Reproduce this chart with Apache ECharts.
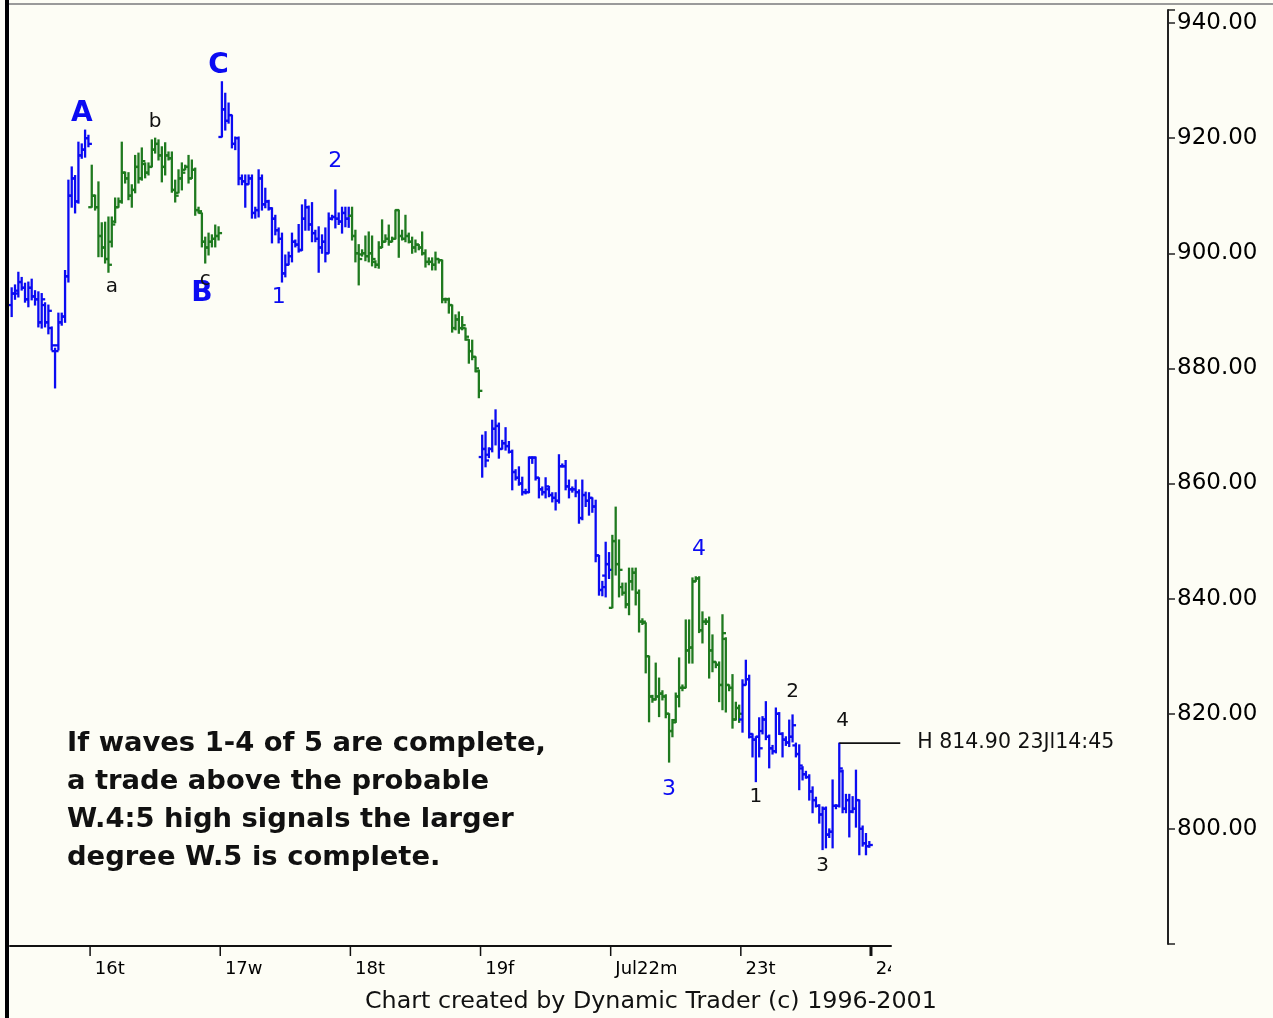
<!DOCTYPE html>
<html><head><meta charset="utf-8">
<script src="https://cdn.jsdelivr.net/npm/echarts@6/dist/echarts.min.js"></script>
<style>html,body{margin:0;padding:0;background:#FDFDF5;}#c{width:1273px;height:1018px;}</style>
</head><body><div id="c"></div>
<script>
// day labels (one per trading day); 15 Jul is the partial first day, 24 is only started
const dayLabels = ['15', '16t', '17w', '18t', '19f', 'Jul22m', '23t', '24'];
// 10-minute OHLC bars: [open, high, low, close]
const day15 = [
[891,894,889,893],[893,894.5,892,893.5],[893,896.7,892.4,895],[895,895.8,893.6,894],
[894,894.8,891.5,892],[892,895,890.7,894],[894,895.5,891.9,892.5],[892.5,893.5,891,892],
[892,893.3,887.2,888],[888,893,887,892],[891,891.4,887.2,888],[888,891,886,890],
[887,887.2,883.2,884],[883,883.5,876.6,883],[884,889.6,883.2,888],[888,889.6,887.5,889],
[889,897,888,896],[896,912.7,895,910],[910,915,908,913],[913,913.5,907,909],
[909,919.3,908.7,917],[917,919,916.5,918],[918,921.4,916.7,920],[920,920.5,918.5,919]];
const day16 = [
[908,915.3,908,910],[910,910.1,907.5,908],[908,912.4,899.4,903],[903,905.3,899.4,901],
[901,905.4,898.3,899],[899,906.3,896.7,898],[902,906.3,901.1,905],[905.5,909.6,905.3,908],
[908,909.6,908,909],[909,919.3,908.7,914],[914,914.1,912.2,913],[913,914,909.3,910],
[910,911.9,908,911],[911,917,910.5,915],[915,917.4,912.2,913],[913,918.3,912.7,916],
[915.5,915.7,913.1,914],[914,915.7,913.6,915],[915,919.7,915,918],[918,920,917.4,919],
[919,919.7,916.2,917],[917,918.5,912.4,915],[915,919.2,913.6,917],[917,917.6,916.2,916.5],
[916.5,917.6,910.6,911],[911,912.7,908.9,910],[910.5,914.5,910.5,913],[913,915.7,911,914],
[914.5,915.3,914.5,915],[915,917,912.2,913],[913,916.2,913,914.5],[914.5,914.8,906.6,907.5],
[907.5,908,907,907.3],[907,907,901.1,902],[902,902.8,898.3,901],[901,903.5,899.7,902],
[902,903.2,901.1,902.5],[902.5,904.9,901.1,903],[903,904.6,902.3,903.5]];
const day17 = [
[920.2,929.8,920.2,925],[925,927.8,921.4,923],[923,926.1,922.6,924],[924,924,918.3,919],
[919,920.2,918,920],[920,920.2,911.9,913],[913,913.6,911.9,912.5],[912.5,913.6,908,912],
[912,913.6,912,913],[913,913.6,906.1,907],[907,908,906.1,907.5],[907.5,914.5,906.3,913],
[913,913.6,907.5,908.5],[908.5,911.3,907.9,909],[909,909.2,907.5,907.8],[907.8,907.9,901.8,906],
[906,906.6,903.2,904],[904,904.4,901.8,902.5],[902.5,903.5,895,896.5],[896.5,899.7,895.9,898],
[898,900.2,898,899.5],[899.5,903.5,898.5,902],[902,902.3,901.1,901.5],[901.5,905,900.2,900.5],
[900.6,908.4,900.5,906],[906,909.3,904,908],[908,908.2,904,905],[905,908.8,902,903.5],
[903.5,904,902,902.5],[902.5,904.6,896.7,901],[901,903.2,900,902],[902,904.4,898.5,900],
[900,907,900,906],[906,906.6,905.8,906.3],[906.3,911,904.4,906],[906,907,905,905.5],
[905.5,908,903.5,907],[907,908,904.6,906],[906,908,904.5,906.5]];
const day18 = [
[906.5,908,902.3,903],[903,904,898.5,900],[900,901.5,894.5,899],[899.8,900.6,899.5,900],
[900,903,898.7,899.5],[899.5,903.7,898.5,900],[900,903,897.8,899],[898.5,898.7,897.5,898],
[898,902,897.4,901],[901,905.8,901,902],[902,903.2,902,902.5],[902.5,904.9,901.4,902],
[902,902.8,902,902.5],[902.5,907.5,902.5,907.5],[907.5,907.5,899.3,903],[903,904,902.3,902.5],
[902.5,906.6,902,903],[903,903.5,901.8,902],[902,902.8,900,901],[901,902.3,900.2,901.5],
[901.5,901.5,900.6,901],[901,903.7,899.7,900],[900,900.6,897.6,898.5],[898.5,899.2,898,898.5],
[898.5,899.2,897.1,898],[898,900.2,897.1,899],[899,899,898.3,898.8],[898.8,898.8,891.4,892],
[892,892.2,891.4,892],[892,892.2,889.6,891],[891,891,886.3,887],[887,889.3,886.7,888.5],
[888.5,889.8,886.1,887],[887,889,886.7,887.5],[887,887,884.9,885.5],[885,885,880.9,883],
[883,884.9,881.5,882],[882,882,879.4,880],[879.5,879.7,874.9,876.1]];
const day19 = [
[864.6,868.4,861.1,866],[866,869,862.9,864],[865,866.2,864.5,866],[866,871,865.5,869.5],
[869.5,872.8,866.7,870],[870,870.5,864.4,866],[866,867.5,866,867],[867,869.7,865.8,866.5],
[866.5,867.3,865.3,865.5],[865.5,865.8,858.9,862],[862,862.4,860.6,861],[861,862.9,859.7,860],
[860,861.1,858,858.5],[858.5,859,858.2,858.5],[858.5,864.6,858.4,864.5],[864.5,864.6,863.5,864.5],
[864.5,864.6,860.6,861],[861,861,857.5,859],[859,859.4,858,858.5],[858.5,861,857.5,859.5],
[859,859.5,857.7,858],[858,858.4,856.8,857.5],[857.5,858.4,855.4,857],[857,865,856.6,863],
[863,863.4,862.9,863],[863,864,858.9,859.5],[859.5,860.6,857.5,859],[859,859.4,858.5,859],
[859,860.6,857.7,858.5],[858.5,858.9,853.1,854],[854,860.6,853.7,858],[858,858.5,856,857],
[857,858.4,854.5,857.5],[857.5,857.5,855,856],[856,857.1,846.4,847.5],[847.5,847.5,840.6,841.5],
[841.5,843,840.5,842],[844,849.8,840.3,846],[846,848,843.5,845]];
const day22 = [
[838.4,851,838.4,850],[850,855.9,844.1,846],[846,850.2,840.3,845],[842,842.7,840.6,841],
[841,842.7,838.4,839],[839,845.3,837.2,843],[843,845.3,841.5,844.5],[844.5,845.3,838.9,841],
[841,841.5,834.2,836],[836,836.5,835.5,836],[835.8,835.8,827.1,830],[830,830,818.6,823],
[823,823.2,822,822.5],[822.5,828.8,822.4,823],[823,826.2,819.5,823.5],[823.5,824,822.4,823],
[823,823.3,819.3,820],[820,820,811.6,817],[817,819,816,818.5],[818.9,823.6,818.5,823],
[823,829.7,821.2,824.5],[824.5,825,824,824.5],[824.5,836.3,824.5,831],[831,836.3,828.8,831.5],
[831.5,843.6,828.8,843],[843,843.8,843,843.5],[843.5,843.8,834.1,834.5],[834.5,837.7,832.3,836],
[836,836.5,835.5,836],[836,836.8,826.2,831],[831,833.7,827.3,829],[829,829,828,828.5],
[828.5,829,822.1,825],[825,837.2,820.7,834],[833,833.2,820.3,825],[825,825,824,824.5],
[824.5,826.8,817.5,819],[819,822,818.9,821],[821,821.5,818.5,820]];
const day23 = [
[819,825.9,816.8,825],[825,829.3,825,826],[826,826.7,815.8,816.5],[816,816.5,812.5,815.5],
[815.5,816,808.2,816],[816,819.3,812.5,814],[817,819.5,816.5,819],[819,822.1,815.5,816],
[816,816.3,810.6,814],[814,814.5,813,813.5],[813.5,821,813.2,820],[820,820.2,816.4,816.5],
[816.5,816.7,812.5,815.5],[815.5,816,814.5,815],[815,818.9,814.3,816],[816,819.8,815.1,818],
[814.5,814.9,812.5,813],[813,814.6,806.8,811],[810.5,810.8,808.5,809.5],[809.5,810,808.8,809],
[809,809.4,805,806.5],[806.5,807.3,802.8,805],[805,805.5,803.8,804],[804,804.2,801,802.5],
[802.5,803.8,796.4,803.5],[803.5,803.8,796.7,799],[799,800,798.5,799.5],[799.5,808.5,796.7,804],
[804,804.2,803.5,804],[804,814.9,803.8,810.5],[810,810.2,802.8,803.5],[803.5,806,802.8,805],
[805,806,798.6,803],[803,805.6,802.8,803.5],[803.5,810.2,800.3,805],[805,805,795.5,800],
[800,800.5,797,797.5],[797.5,799.2,795.5,797],[797,797.8,796.8,797.2]];
const days = [day15, day16, day17, day18, day19, day22, day23];
const openSlots = 6; // empty slots at the start of day 24

// wave labels: [text, bar index, price]
const majorLabels = [['A', 21, 924.2], ['B', 57, 892.9], ['C', 62, 932.5]];
const blueWaveLabels = [['1', 80, 892.4], ['2', 97, 915.9], ['3', 197, 806.9], ['4', 206, 848.6]];
const blackWaveLabels = [['a', 30, 894.1], ['b', 43, 922.8], ['c', 58, 895.4],
  ['1', 223, 805.6], ['2', 234, 823.8], ['3', 243, 793.6], ['4', 249, 818.8]];
// high marker: [bar index, price, time]
const highMark = [[248, 814.9, '23Jl14:45']];
const noteLines = ['If waves 1-4 of 5 are complete,', 'a trade above the probable',
  'W.4:5 high signals the larger', 'degree W.5 is complete.'];
const footer = 'Chart created by Dynamic Trader (c) 1996-2001';

const BLUE = '#0b0bf2', GREEN = '#1f7a1f', BG = '#FDFDF5';
const categories = [], bars = [];
days.forEach((d, di) => d.forEach((b, k) => {
  categories.push(dayLabels[di] + '|' + k);
  bars.push([categories.length - 1, b[0], b[1], b[2], b[3], di % 2]);
}));
for (let k = 0; k < openSlots; k++) categories.push(dayLabels[7] + '|' + k);
const isDayStart = (idx, v) => idx > 0 && /\|0$/.test(String(v));
const dayStarts = categories.map((v, i) => [i, v]).filter(d => isDayStart(d[0], d[1])).map(d => [d[0]]);

function textSeries(items, color, font) {
  return {
    type: 'custom', clip: false, silent: true, z: 5,
    data: items.map(d => [d[1], d[2]]), encode: {x: 0, y: 1},
    renderItem: (p, api) => {
      const pt = api.coord([api.value(0), api.value(1)]);
      return {type: 'text', x: pt[0], y: pt[1], style: {text: items[p.dataIndex][0], fill: color, font: font,
        align: 'center', verticalAlign: 'middle', textAlign: 'center', textVerticalAlign: 'middle'}};
    }
  };
}

const chart = echarts.init(document.getElementById('c'));
chart.setOption({
  backgroundColor: BG,
  animation: false,
  grid: {left: 10, top: 10, width: 881, height: 934},
  xAxis: {
    type: 'category', data: categories, boundaryGap: true, offset: 2,
    axisLine: {lineStyle: {color: '#111', width: 2}},
    axisTick: {show: false},
    axisLabel: {interval: isDayStart, formatter: v => v.split('|')[0], align: 'left', padding: [0, 0, 0, 3],
      margin: 14, color: '#000', fontFamily: 'DejaVu Sans', fontSize: 18},
    splitLine: {show: false}
  },
  yAxis: {
    type: 'value', position: 'right', offset: 277, min: 780, max: 942.26, interval: 20,
    axisLine: {show: true, lineStyle: {color: '#222', width: 2}},
    axisTick: {show: true, length: 7, lineStyle: {color: '#222', width: 1.5}},
    axisLabel: {margin: 9, color: '#000', fontFamily: 'DejaVu Sans', fontSize: 23,
      formatter: v => (Math.abs(v % 20) < 1e-6 && v > 790) ? v.toFixed(2) : ''},
    splitLine: {show: false}
  },
  series: [
    {
      type: 'custom', clip: false, silent: true, data: bars, encode: {x: 0, y: [1, 2, 3, 4]},
      renderItem: (p, api) => {
        const i = api.value(0);
        const o = api.coord([i, api.value(1)]), h = api.coord([i, api.value(2)]);
        const l = api.coord([i, api.value(3)]), c = api.coord([i, api.value(4)]);
        const st = {stroke: api.value(5) ? GREEN : BLUE, lineWidth: 2.3};
        return {type: 'group', children: [
          {type: 'line', shape: {x1: h[0], y1: h[1] - 0.5, x2: l[0], y2: l[1] + 0.5}, style: st},
          {type: 'line', shape: {x1: o[0] - 3.5, y1: o[1], x2: o[0], y2: o[1]}, style: st},
          {type: 'line', shape: {x1: c[0], y1: c[1], x2: c[0] + 3.5, y2: c[1]}, style: st}
        ]};
      }
    },
    {
      // day-boundary ticks below the time axis
      type: 'custom', clip: false, silent: true, data: dayStarts, encode: {x: 0},
      renderItem: (p, api) => {
        const idx = api.value(0);
        const x = api.coord([idx, 780])[0] - api.size([1, 0])[0] / 2;
        const y0 = api.coord([idx, 780])[1] + 2;
        const last = p.dataIndex === dayStarts.length - 1;
        return {type: 'line', shape: {x1: x, y1: y0, x2: x, y2: y0 + 10},
          style: {stroke: '#111', lineWidth: last ? 3 : 1.5}};
      }
    },
    textSeries(majorLabels, BLUE, 'bold 28px "DejaVu Sans"'),
    textSeries(blueWaveLabels, BLUE, '22px "DejaVu Sans"'),
    textSeries(blackWaveLabels, '#111', '20px "DejaVu Sans"'),
    {
      type: 'custom', clip: false, silent: true, z: 5,
      data: highMark.map(d => [d[0], d[1]]), encode: {x: 0, y: 1},
      renderItem: (p, api) => {
        const pt = api.coord([api.value(0), api.value(1)]);
        const txt = 'H ' + api.value(1).toFixed(2) + ' ' + highMark[p.dataIndex][2];
        return {type: 'group', children: [
          {type: 'line', shape: {x1: pt[0], y1: pt[1], x2: pt[0] + 61, y2: pt[1]}, style: {stroke: '#111', lineWidth: 1.6}},
          {type: 'text', x: pt[0] + 78, y: pt[1], style: {text: txt, fill: '#111', font: '20.5px "DejaVu Sans"',
            align: 'left', verticalAlign: 'middle', textAlign: 'left', textVerticalAlign: 'middle'}}
        ]};
      }
    }
  ],
  graphic: [
    {type: 'rect', left: 891, top: 950, shape: {width: 260, height: 36}, style: {fill: BG}, z: 100},
    {type: 'rect', left: 5, top: 0, shape: {width: 4, height: 1018}, style: {fill: '#000'}, z: 100},
    {type: 'rect', left: 9, top: 3, shape: {width: 1264, height: 2}, style: {fill: '#9a9a9a'}, z: 100},
    {type: 'text', left: 67, top: 725, z: 100, style: {text: noteLines.join('\n'), fill: '#111',
      font: 'bold 27.4px "DejaVu Sans"', lineHeight: 38}},
    {type: 'text', left: 365, top: 990, z: 100, style: {text: footer, fill: '#111', font: '23.8px "DejaVu Sans"'}}
  ]
});
</script></body></html>
